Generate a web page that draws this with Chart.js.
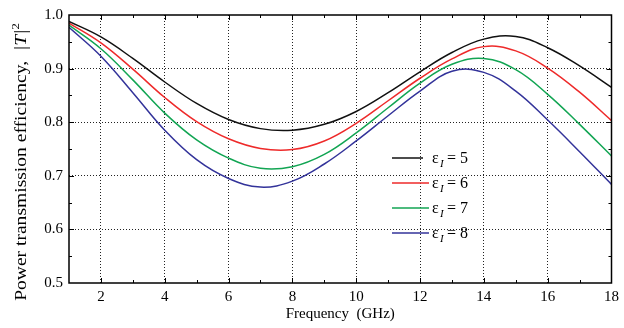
<!DOCTYPE html>
<html>
<head>
<meta charset="utf-8">
<script src="https://cdn.jsdelivr.net/npm/chart.js@4/dist/chart.umd.min.js"></script>
<style>
  html, body { margin: 0; padding: 0; background: #fff; }
  #wrap { width: 624px; height: 328px; }
</style>
</head>
<body>
<div id="wrap"><canvas id="chart"></canvas></div>
<script>
// frequency grid (GHz) and efficiency curves
const freq = [1, 2, 3, 4, 5, 6, 7, 8, 9, 10, 11, 12, 13, 14, 15, 16, 17, 18];
const eps5 = [0.988, 0.959, 0.919, 0.875, 0.835, 0.805, 0.788, 0.785, 0.796, 0.820, 0.855, 0.894, 0.930, 0.955, 0.960, 0.939, 0.905, 0.865];
const eps6 = [0.985, 0.948, 0.899, 0.846, 0.801, 0.769, 0.751, 0.749, 0.765, 0.798, 0.840, 0.882, 0.918, 0.941, 0.933, 0.901, 0.856, 0.803];
const eps7 = [0.981, 0.937, 0.879, 0.817, 0.767, 0.733, 0.714, 0.717, 0.740, 0.780, 0.827, 0.873, 0.908, 0.919, 0.898, 0.852, 0.796, 0.737];
const eps8 = [0.977, 0.923, 0.855, 0.785, 0.730, 0.695, 0.679, 0.690, 0.722, 0.765, 0.812, 0.858, 0.895, 0.893, 0.858, 0.804, 0.745, 0.684];
const permittivity = [5, 6, 7, 8];
const xTicks = [2, 4, 6, 8, 10, 12, 14, 16, 18];
const yTicks = [0.5, 0.6, 0.7, 0.8, 0.9, 1.0];

const COLORS = ['#111111', '#ee2a2a', '#12a553', '#33339a'];
const SERIF = '"Liberation Serif", "Times New Roman", serif';

const series = [eps5, eps6, eps7, eps8];

// frame, inward ticks (major + minor) on all four sides
const framePlugin = {
    id: 'frame',
    afterDraw(chart) {
        const { ctx, chartArea: a, scales: { x, y } } = chart;
        ctx.save();
        ctx.strokeStyle = '#000';
        ctx.lineWidth = 1;
        ctx.beginPath();
        for (let f = 2; f < 18; f++) {
            const len = f % 2 === 0 ? 5 : 3;
            const px = Math.round(x.getPixelForValue(f)) + 0.5;
            ctx.moveTo(px, a.bottom); ctx.lineTo(px, a.bottom - len);
            ctx.moveTo(px, a.top); ctx.lineTo(px, a.top + len);
        }
        for (let v = 0.55; v < 0.99; v += 0.05) {
            const major = Math.abs(v * 10 - Math.round(v * 10)) < 1e-6;
            const len = major ? 5 : 3;
            const py = Math.round(y.getPixelForValue(v)) + 0.5;
            ctx.moveTo(a.left, py); ctx.lineTo(a.left + len, py);
            ctx.moveTo(a.right, py); ctx.lineTo(a.right - len, py);
        }
        ctx.stroke();
        ctx.lineWidth = 1.5;
        ctx.strokeRect(a.left, a.top, a.right - a.left, a.bottom - a.top);
        ctx.restore();
    }
};

// y title with italic |T| and superscript 2, slightly stretched like the original
const yTitlePlugin = {
    id: 'yTitle',
    afterDraw(chart) {
        const { ctx } = chart;
        const parts = [
            { t: 'Power transmission efficiency,  ', f: '17px ' + SERIF, dy: 0 },
            { t: '|T|', f: 'italic 17px ' + SERIF, dy: 0 },
            { t: '2', f: '11px ' + SERIF, dy: -7 }
        ];
        ctx.save();
        ctx.translate(26, 162);
        ctx.rotate(-Math.PI / 2);
        ctx.scale(1.15, 1);
        let total = 0;
        parts.forEach(p => { ctx.font = p.f; total += ctx.measureText(p.t).width; });
        let cx = -total / 2;
        ctx.fillStyle = '#000';
        ctx.textBaseline = 'alphabetic';
        parts.forEach(p => {
            ctx.font = p.f;
            ctx.fillText(p.t, cx, p.dy);
            cx += ctx.measureText(p.t).width;
        });
        ctx.restore();
    }
};

// legend inside the plot: line sample, then "ε" with italic subscript I
const legendPlugin = {
    id: 'epsLegend',
    afterDraw(chart) {
        const { ctx, chartArea: a } = chart;
        const x0 = a.left + 323;
        const y0 = a.top + 143;
        ctx.save();
        chart.data.datasets.forEach((ds, i) => {
            const yy = y0 + i * 25;
            ctx.strokeStyle = ds.borderColor;
            ctx.lineWidth = 1.5;
            ctx.beginPath();
            ctx.moveTo(x0, yy);
            ctx.lineTo(x0 + (i === 0 ? 31 : 37), yy);
            ctx.stroke();
            ctx.fillStyle = '#000';
            ctx.textBaseline = 'alphabetic';
            ctx.font = '16px ' + SERIF;
            ctx.fillText('\u03b5', x0 + 40, yy + 5);
            ctx.font = 'italic 11px ' + SERIF;
            ctx.fillText('I', x0 + 48, yy + 9);
            ctx.font = '16px ' + SERIF;
            ctx.fillText('= ' + permittivity[i], x0 + 55, yy + 5);
        });
        ctx.restore();
    }
};

new Chart(document.getElementById('chart'), {
    type: 'line',
    data: {
        datasets: series.map((vals, i) => ({
            label: 'εI = ' + permittivity[i],
            data: freq.map((f, j) => ({ x: f, y: vals[j] })),
            borderColor: COLORS[i],
            borderWidth: 1.5,
            pointRadius: 0,
            tension: 0.4,
            fill: false
        }))
    },
    options: {
        responsive: true,
        maintainAspectRatio: false,
        animation: false,
        layout: { padding: { top: 13, right: 8, left: 0, bottom: 0 } },
        plugins: {
            legend: { display: false },
            tooltip: { enabled: false }
        },
        scales: {
            x: {
                type: 'linear',
                min: 1,
                max: 18,
                afterBuildTicks: s => { s.ticks = xTicks.map(v => ({ value: v })); },
                afterFit: s => { s.height = 45; },
                grid: {
                    drawTicks: false,
                    color: c => (c.tick && c.tick.value < 18) ? '#222' : 'rgba(0,0,0,0)',
                    lineWidth: 1
                },
                border: { display: false, dash: [1, 2] },
                ticks: {
                    color: '#000',
                    padding: 5,
                    maxRotation: 0,
                    font: { family: SERIF, size: 15 }
                },
                title: {
                    display: true,
                    text: 'Frequency  (GHz)',
                    color: '#000',
                    font: { family: SERIF, size: 15 },
                    padding: { top: 0, bottom: 5 }
                }
            },
            y: {
                type: 'linear',
                min: 0.5,
                max: 1.0,
                afterBuildTicks: s => { s.ticks = yTicks.map(v => ({ value: v })); },
                afterFit: s => { s.width = 69; },
                grid: {
                    drawTicks: false,
                    color: c => (c.tick && c.tick.value > 0.55 && c.tick.value < 0.95) ? '#222' : 'rgba(0,0,0,0)',
                    lineWidth: 1
                },
                border: { display: false, dash: [1, 2] },
                ticks: {
                    color: '#000',
                    padding: 6,
                    font: { family: SERIF, size: 15 },
                    callback: v => v.toFixed(1)
                },
                title: { display: false }
            }
        }
    },
    plugins: [framePlugin, yTitlePlugin, legendPlugin]
});
</script>
</body>
</html>
